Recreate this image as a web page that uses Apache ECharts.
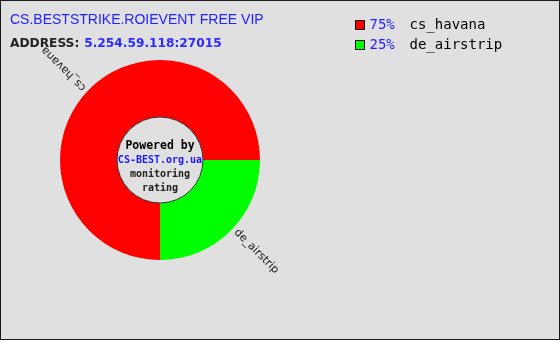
<!DOCTYPE html>
<html>
<head>
<meta charset="utf-8">
<script src="https://cdn.jsdelivr.net/npm/echarts@6/dist/echarts.min.js"></script>
<style>
html,body{margin:0;padding:0;background:#e0e0e0;}
#wrap{position:relative;width:560px;height:340px;}
#chart{position:absolute;left:0;top:0;width:560px;height:340px;}
#frame{position:absolute;left:0;top:0;width:560px;height:340px;box-sizing:border-box;border:1px solid #1a1a1a;pointer-events:none;}
</style>
</head>
<body>
<div id="wrap"><div id="chart"></div><div id="frame"></div></div>
<script>
const titleText = 'CS.BESTSTRIKE.ROIEVENT FREE VIP';
const addressLabel = 'ADDRESS:';
const addressValue = '5.254.59.118:27015';
const mapNames = ['cs_havana', 'de_airstrip'];
const mapShares = [75, 25];
const mapColors = ['#ff0000', '#00ff00'];
const labelRotations = [135, -45];
const centerLines = ['Powered by', 'CS-BEST.org.ua', 'monitoring', 'rating'];

const chart = echarts.init(document.getElementById('chart'), null, {renderer: 'canvas'});

const pieData = mapNames.map((n, i) => ({
  name: n,
  value: mapShares[i],
  itemStyle: {color: mapColors[i]},
  label: {rotate: labelRotations[i]}
}));

const option = {
  backgroundColor: '#e0e0e0',
  animation: false,
  title: [
    {
      text: titleText,
      left: 10, top: 13, padding: 0,
      textStyle: {fontFamily: 'Liberation Sans, sans-serif', fontWeight: 'normal', fontSize: 14, color: '#2222ff'}
    },
    {
      text: '{a|' + addressLabel + '} {b|' + addressValue + '}',
      left: 10, top: 35, padding: 0,
      textStyle: {
        rich: {
          a: {fontFamily: 'DejaVu Sans', fontSize: 12.2, color: '#222222'},
          b: {fontFamily: 'DejaVu Sans', fontSize: 12.2, color: '#2b2bff'}
        }
      }
    },
    {
      text: '{pw|' + centerLines[0] + '}\n{cs|' + centerLines[1] + '}\n{m|' + centerLines[2] + '}\n{m|' + centerLines[3] + '}',
      left: 160, top: 139, padding: 0, textAlign: 'center',
      textStyle: {
        rich: {
          pw: {fontFamily: 'DejaVu Sans Mono', fontWeight: 'bold', fontSize: 11.5, color: '#000', lineHeight: 14, align: 'center'},
          cs: {fontFamily: 'DejaVu Sans Mono', fontSize: 10, color: '#1a1aff', lineHeight: 14, align: 'center'},
          m: {fontFamily: 'DejaVu Sans Mono', fontSize: 10, color: '#222', lineHeight: 14, align: 'center'}
        }
      }
    }
  ],
  legend: {
    orient: 'vertical',
    left: 355, top: 18,
    padding: 0,
    itemGap: 6,
    itemWidth: 9, itemHeight: 9,
    icon: 'rect',
    data: mapNames,
    itemStyle: {borderColor: '#000', borderWidth: 1},
    formatter: function (name) {
      const i = mapNames.indexOf(name);
      return '{p|' + mapShares[i] + '%}{n|' + name + '}';
    },
    textStyle: {
      rich: {
        p: {fontFamily: 'DejaVu Sans Mono', fontSize: 14, color: '#2222ff', width: 40},
        n: {fontFamily: 'DejaVu Sans Mono', fontSize: 14, color: '#000'}
      }
    }
  },
  series: [
    {
      type: 'pie',
      silent: true,
      center: [160, 160],
      radius: [0, 43],
      label: {show: false},
      labelLine: {show: false},
      itemStyle: {color: '#e0e0e0', borderColor: '#333', borderWidth: 1},
      data: [{value: 1, name: 'inner'}],
      z: 3
    },
    {
      type: 'pie',
      center: [160, 160],
      radius: [43, 100],
      startAngle: 0,
      clockwise: false,
      avoidLabelOverlap: false,
      itemStyle: {borderWidth: 0},
      label: {
        show: true,
        position: 'outside',
        fontFamily: 'DejaVu Sans',
        fontSize: 11,
        color: '#222',
        formatter: '{b}'
      },
      labelLine: {show: false, length: 0, length2: 0},
      labelLayout: function () {
        return {align: 'left', verticalAlign: 'middle'};
      },
      data: pieData
    }
  ]
};
chart.setOption(option);
</script>
</body>
</html>
